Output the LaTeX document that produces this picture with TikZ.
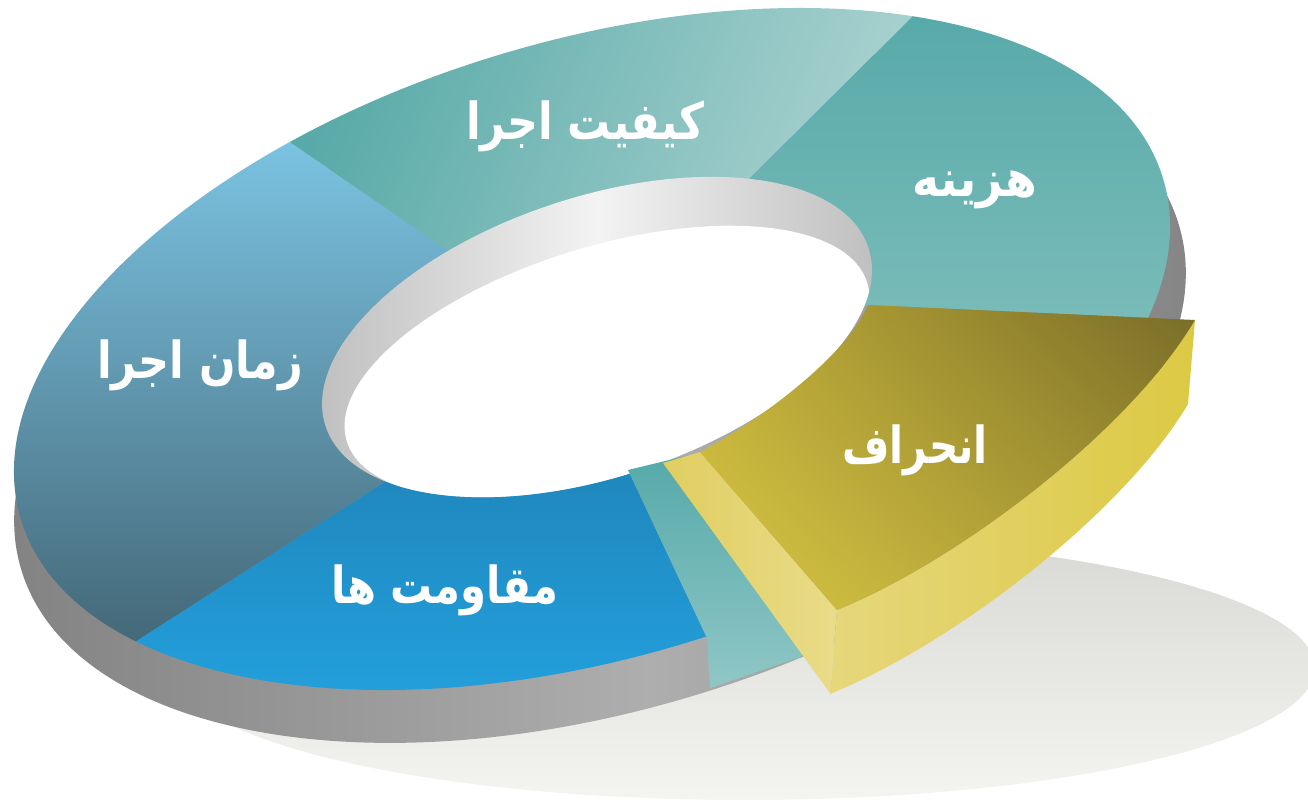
\documentclass[tikz,border=0pt]{standalone}
\usepackage{fontspec}
\newfontfamily\fafont[Script=Arabic]{DejaVu Sans}
\TeXXeTstate=1
\usetikzlibrary{shadings}

\begin{document}
\begin{tikzpicture}[x=0.01cm, y=-0.01cm,
    lbl/.style={text=white, font=\fafont\bfseries\fontsize{14.5}{17}\selectfont}]
    \definecolor{shadowtop}{RGB}{216,217,212}
    \definecolor{shadowbot}{RGB}{244,245,240}
    \definecolor{sidel}{RGB}{130,130,130}
    \definecolor{sidem}{RGB}{174,174,174}
    \definecolor{sider}{RGB}{125,125,125}
    \definecolor{timetop}{RGB}{124,197,228}
    \definecolor{timebot}{RGB}{62,94,108}
    \definecolor{qualdark}{RGB}{88,170,168}
    \definecolor{quallight}{RGB}{170,210,208}
    \definecolor{costtop}{RGB}{86,169,169}
    \definecolor{costbot}{RGB}{122,188,185}
    \definecolor{resisttop}{RGB}{31,134,188}
    \definecolor{resistbot}{RGB}{35,160,220}
    \definecolor{wallside}{RGB}{190,190,190}
    \definecolor{wallmid}{RGB}{243,243,243}
    \definecolor{tealtop}{RGB}{86,169,169}
    \definecolor{tealbot}{RGB}{143,199,198}
    \definecolor{goldul}{RGB}{190,172,56}
    \definecolor{goldur}{RGB}{120,108,40}
    \definecolor{goldll}{RGB}{218,200,68}
    \definecolor{goldlr}{RGB}{168,152,52}
    \definecolor{goldsidel}{RGB}{224,206,96}
    \definecolor{goldsider}{RGB}{233,220,138}
    \definecolor{goldfrontl}{RGB}{230,215,124}
    \definecolor{goldfrontr}{RGB}{220,201,67}

    \useasboundingbox (0,0) rectangle (1308,800);

    % Shadow on the ground
    \shade[top color=shadowtop, bottom color=shadowbot] (745,668) ellipse [x radius=570, y radius=132];

    % Outer side of the ring
    \begin{scope}
        \clip[rotate around={16.55:(600,397)}] (600,397) ellipse [x radius=604, y radius=313];
        \shade[left color=sidel, right color=sider, middle color=sidem] (0,0) rectangle (1300,760);
    \end{scope}

    % Top of the ring, one slice at a time
    \begin{scope}
        \clip[rotate around={16.55:(592,349)}] (592,349) ellipse [x radius=596, y radius=308.5];
        % time slice
        \begin{scope}
            \clip (597,337) -- (388,480) -- (-371,966) -- (-400,-65) -- (-13,-65) -- (443,247) -- cycle;
            \shade[top color=timetop, bottom color=timebot] (0,130) rectangle (470,700);
        \end{scope}
        % quality slice
        \begin{scope}
            \clip (597,337) -- (443,247) -- (-13,-65) -- (1245,-314) -- (750,178) -- cycle;
            \shade[left color=qualdark, right color=quallight, shading angle=68] (280,0) rectangle (920,260);
        \end{scope}
        % cost slice
        \begin{scope}
            \clip (597,337) -- (750,178) -- (1245,-314) -- (1900,-314) -- (1849,350) -- (868,305) -- cycle;
            \shade[top color=costtop, bottom color=costbot] (740,0) rectangle (1200,330);
        \end{scope}
        % resistance slice
        \begin{scope}
            \clip (597,337) -- (628,470) -- (865,974) -- (-371,966) -- (388,480) -- cycle;
            \shade[top color=resisttop, bottom color=resistbot] (120,460) rectangle (720,700);
        \end{scope}
    \end{scope}

    % Hole: inner wall and opening
    \begin{scope}
        \clip[rotate around={18.2:(597,337)}] (597,337) ellipse [x radius=285.7, y radius=140];
        \shade[left color=wallside, right color=wallside, middle color=wallmid] (312,170) rectangle (882,500);
        \fill[white, rotate around={16.9:(607,362)}] (607,362) ellipse [x radius=272, y radius=116];
    \end{scope}

    % Cut face left by the pulled-out slice
    \shade[top color=tealtop, bottom color=tealbot] (628,470) -- (707,638) -- (710,688) -- (801,657) -- (806,650) -- (690,455) -- cycle;

    % Pulled-out slice
    \shade[left color=goldsidel, right color=goldsider] (663,463) -- (700,452) -- (837,610) -- (830,693) -- cycle;
    \shade[left color=goldfrontl, right color=goldfrontr] (1195,320) -- (1188,404) .. controls (1123,514) and (953,644) .. (830,694) -- (837,610) .. controls (960,560) and (1130,430) .. (1195,320) -- cycle;
    \shade[upper left=goldul, upper right=goldur, lower left=goldll, lower right=goldlr] (868,305) -- (1195,320) .. controls (1130,430) and (960,560) .. (837,610) -- (700,452) .. controls (770,415) and (850,350) .. (868,305) -- cycle;

    % Labels
    \node[lbl] (quality) at (585,126) {\scalebox{0.84}[1]{\beginR کیفیت اجرا\endR}};
    \node[lbl] (cost) at (975,190) {\scalebox{0.9}[1]{\beginR هزینه\endR}};
    \node[lbl] (time) at (200,365) {\scalebox{0.84}[1]{\beginR زمان اجرا\endR}};
    \node[lbl] (deviation) at (915,450) {\scalebox{0.8}[1]{\beginR انحراف\endR}};
    \node[lbl] (resist) at (445,590) {\scalebox{0.82}[1]{\beginR مقاومت ها\endR}};
\end{tikzpicture}
\end{document}
